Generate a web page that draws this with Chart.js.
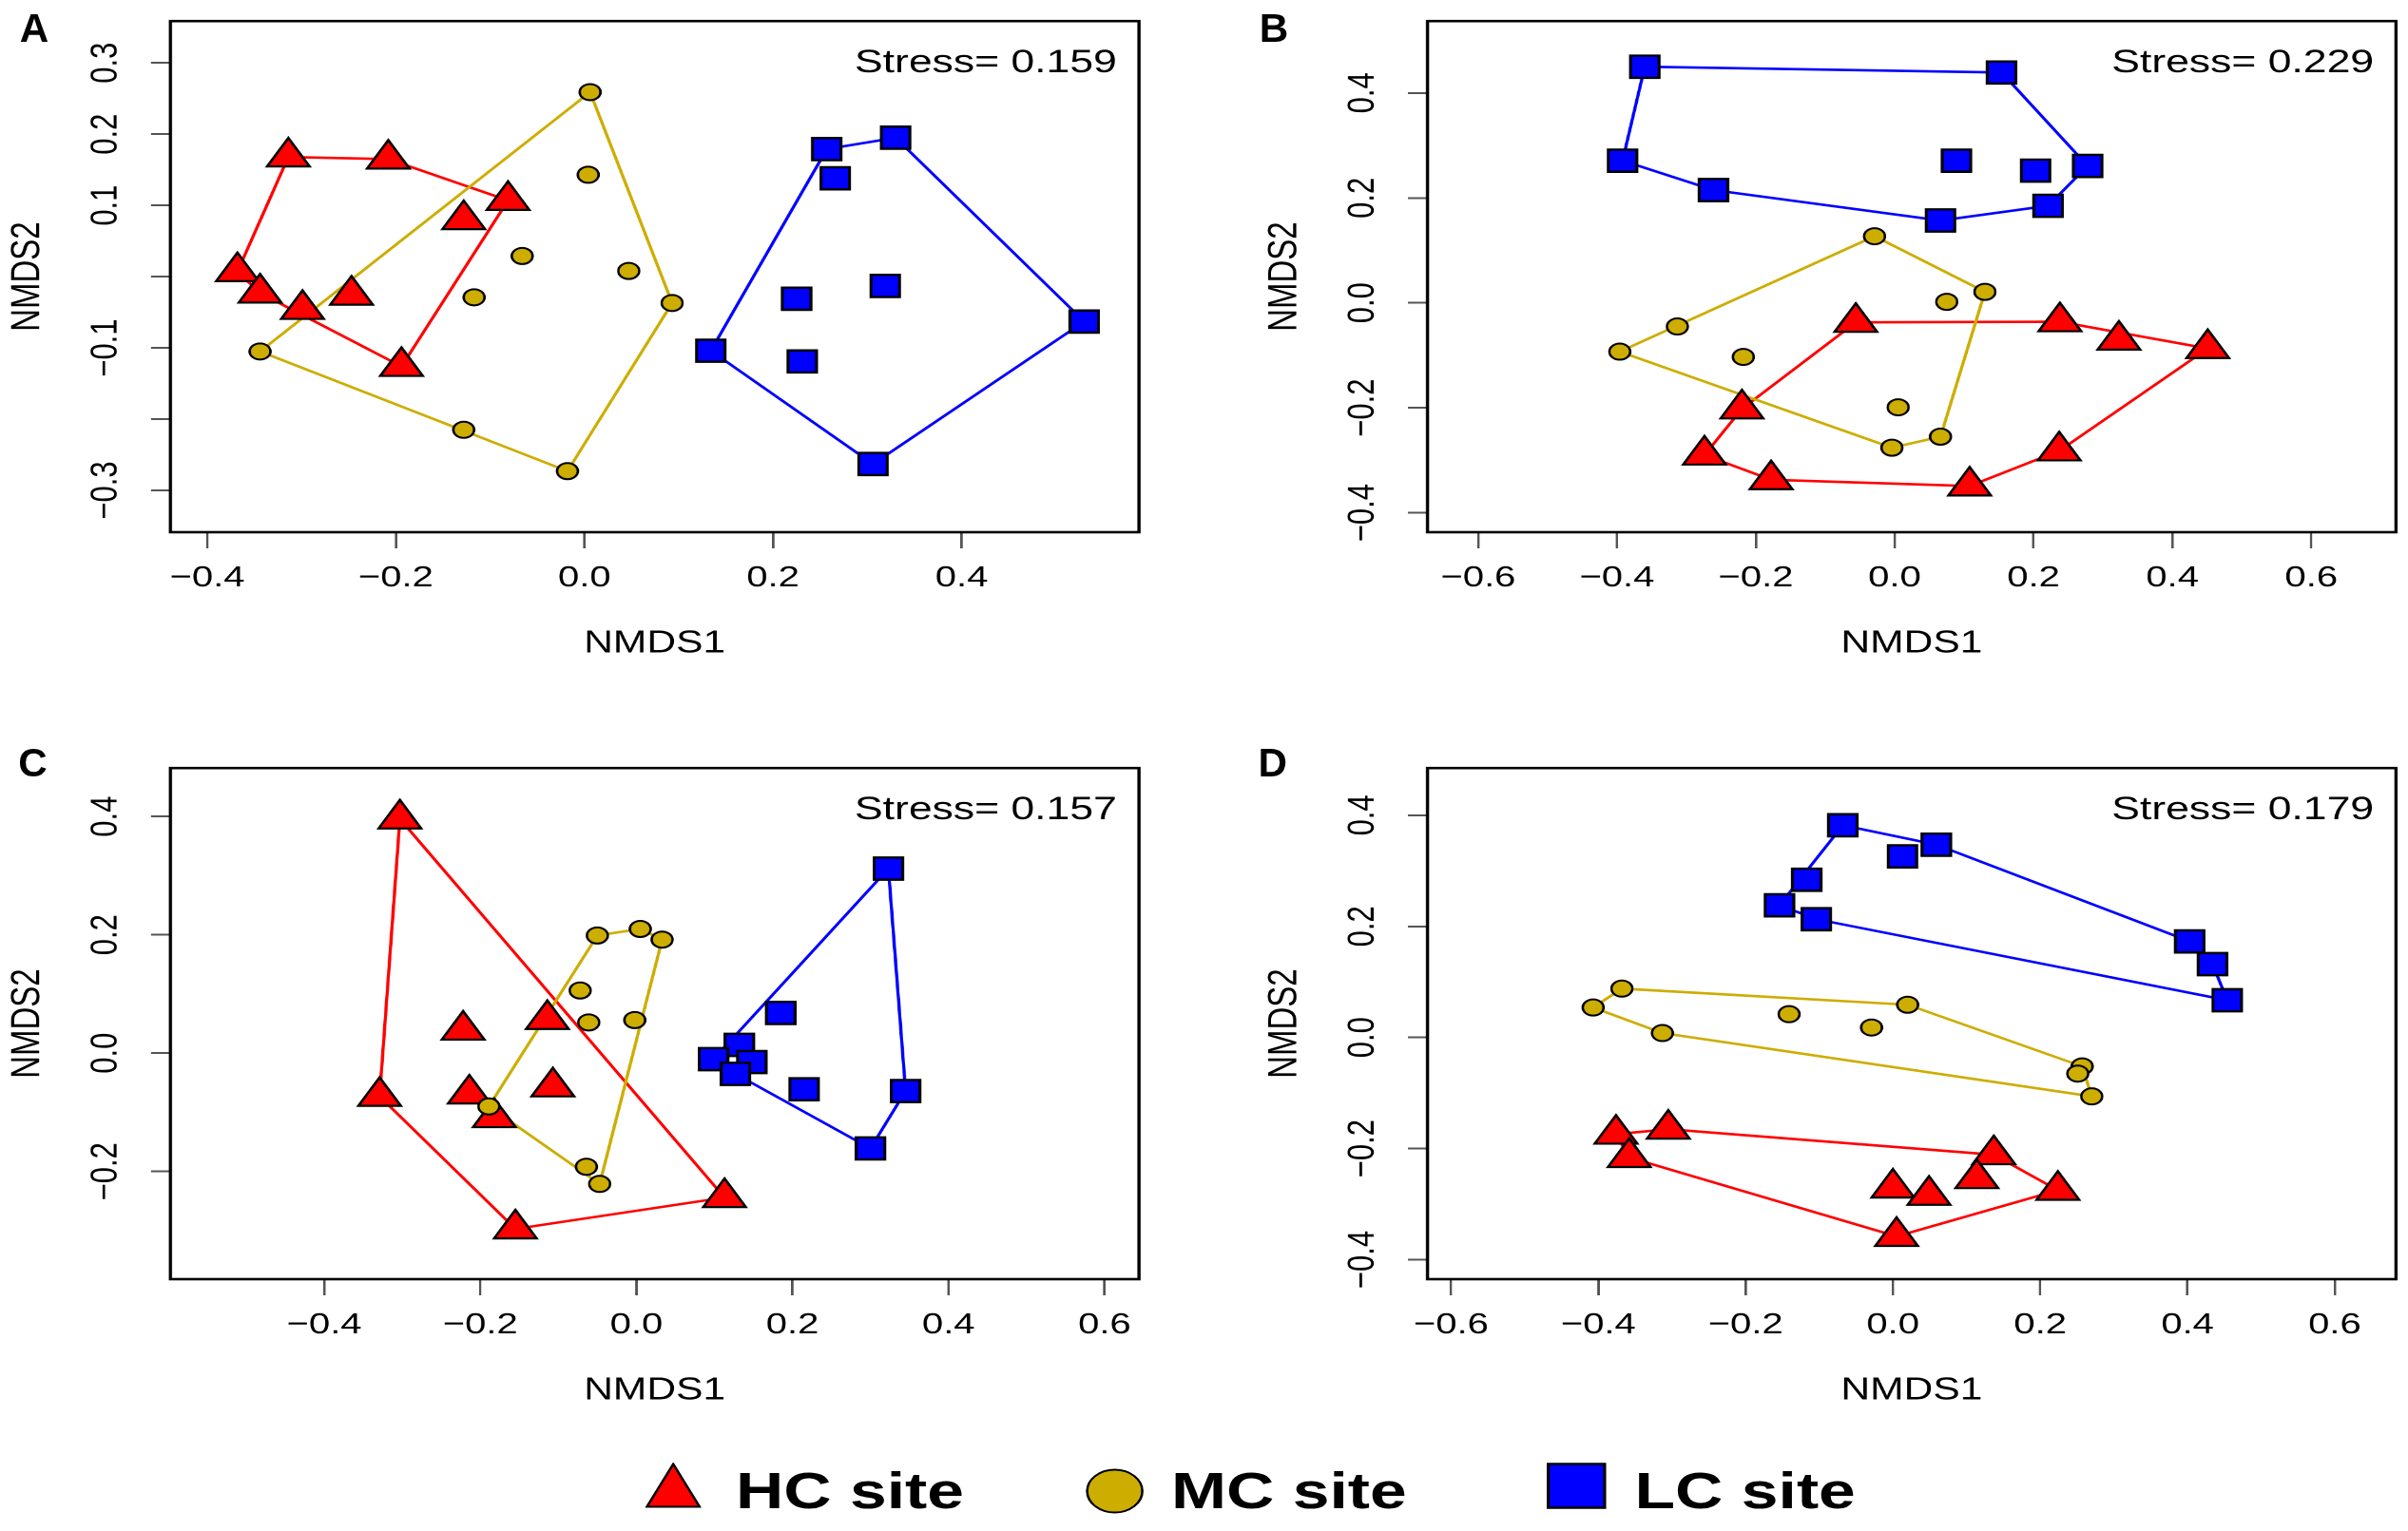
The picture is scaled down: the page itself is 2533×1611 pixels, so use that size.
<!DOCTYPE html>
<html><head><meta charset="utf-8">
<script src="https://cdn.jsdelivr.net/npm/chart.js@4.4.1/dist/chart.umd.min.js"></script>
<style>
html,body{margin:0;padding:0;background:#fff;overflow:hidden;width:2533px;height:1611px}
#fig{position:absolute;left:0;top:0;width:1964px;height:1611px;transform:scaleX(1.29);transform-origin:0 0;font-family:"Liberation Sans",Arial,sans-serif;color:#000}
.panel{position:absolute;width:990px;height:700px}
.letter{position:absolute;font-weight:bold;font-size:42px;line-height:42px;transform:scaleX(0.78);transform-origin:0 0}
.leg{position:absolute;font-weight:bold;font-size:54px;line-height:54px;white-space:nowrap}
.sym{position:absolute}
</style></head>
<body>
<div id="fig">
  <div class="panel" style="left:0px;top:0px"><canvas id="cA" width="990" height="700"></canvas></div>
  <div class="panel" style="left:1025.3px;top:0px"><canvas id="cB" width="990" height="700"></canvas></div>
  <div class="panel" style="left:0px;top:786px"><canvas id="cC" width="990" height="700"></canvas></div>
  <div class="panel" style="left:1025.3px;top:786px"><canvas id="cD" width="990" height="700"></canvas></div>
  <div class="letter" style="left:15.5px;top:8.5px">A</div>
  <div class="letter" style="left:1027px;top:8.5px">B</div>
  <div class="letter" style="left:14.7px;top:781.5px">C</div>
  <div class="letter" style="left:1025.6px;top:781.5px">D</div>

  <svg class="sym" style="left:526.4px;top:1539px" width="46" height="48"><polygon points="1.5,46.5 23,1.5 44.5,46.5" fill="#FF0000" stroke="#000" stroke-width="2"/></svg>
  <div class="leg" style="left:600px;top:1541px">HC site</div>
  <svg class="sym" style="left:885.3px;top:1545px" width="48" height="48"><circle cx="24" cy="24" r="22.5" fill="#CDAD00" stroke="#000" stroke-width="2"/></svg>
  <div class="leg" style="left:955px;top:1541px">MC site</div>
  <svg class="sym" style="left:1261px;top:1539px" width="49" height="49"><rect x="1.5" y="1.5" width="46" height="46" fill="#0000FF" stroke="#000" stroke-width="2.5"/></svg>
  <div class="leg" style="left:1333px;top:1541px">LC site</div>
</div>
<script>
// ---------------- data ----------------
// Panel A
const hcA = [[-0.314,0.168],[-0.208,0.165],[-0.081,0.107],[-0.128,0.080],[-0.368,0.007],[-0.344,-0.023],[-0.299,-0.046],[-0.247,-0.026],[-0.194,-0.126]];
const mcA = [[0.006,0.259],[0.004,0.143],[-0.066,0.029],[0.047,0.008],[-0.117,-0.029],[0.093,-0.037],[-0.344,-0.105],[-0.128,-0.215],[-0.018,-0.273]];
const lcA = [[0.257,0.179],[0.330,0.195],[0.266,0.138],[0.319,-0.013],[0.225,-0.031],[0.530,-0.063],[0.134,-0.104],[0.231,-0.119],[0.306,-0.263]];
// Panel B
const hcB = [[-0.056,-0.037],[0.238,-0.036],[0.323,-0.071],[0.451,-0.087],[-0.220,-0.202],[-0.274,-0.290],[-0.178,-0.337],[0.108,-0.349],[0.237,-0.282]];
const mcB = [[-0.029,0.127],[0.130,0.021],[0.075,0.002],[-0.313,-0.045],[-0.396,-0.093],[-0.218,-0.103],[0.005,-0.199],[0.066,-0.255],[-0.004,-0.276]];
const lcB = [[-0.360,0.450],[0.154,0.439],[-0.392,0.271],[0.089,0.271],[0.203,0.252],[0.278,0.261],[-0.261,0.215],[0.221,0.185],[0.066,0.157]];
// Panel C
const hcC = [[-0.303,0.396],[-0.222,0.039],[-0.114,0.057],[-0.329,-0.073],[-0.214,-0.069],[-0.107,-0.057],[-0.182,-0.109],[0.113,-0.244],[-0.155,-0.297]];
const mcC = [[-0.050,0.199],[0.005,0.210],[0.033,0.192],[-0.072,0.106],[-0.061,0.052],[-0.002,0.056],[-0.189,-0.090],[-0.064,-0.192],[-0.047,-0.221]];
const lcC = [[0.323,0.312],[0.185,0.068],[0.132,0.014],[0.099,-0.010],[0.148,-0.015],[0.127,-0.035],[0.215,-0.061],[0.345,-0.064],[0.300,-0.161]];
// Panel D
const hcD = [[-0.376,-0.174],[-0.305,-0.165],[-0.358,-0.216],[0.137,-0.211],[0.114,-0.254],[0.000,-0.271],[0.049,-0.284],[0.224,-0.275],[0.005,-0.358]];
const mcD = [[-0.368,0.088],[-0.407,0.054],[-0.141,0.042],[0.020,0.059],[-0.029,0.018],[-0.313,0.008],[0.257,-0.052],[0.251,-0.065],[0.270,-0.106]];
const lcD = [[-0.068,0.382],[0.059,0.347],[0.013,0.326],[-0.117,0.284],[-0.154,0.238],[-0.104,0.213],[0.403,0.173],[0.434,0.132],[0.454,0.067]];

// stress values
const stressA = "Stress= 0.159", stressB = "Stress= 0.229", stressC = "Stress= 0.157", stressD = "Stress= 0.179";

// axis ranges
const xRangeA = [-0.439, 0.588], yRangeA = [-0.3587, 0.3587];
const xRangeB = [-0.673, 0.722], yRangeB = [-0.437, 0.537];
const xRangeC = [-0.597, 0.644], yRangeC = [-0.382, 0.482];
const xRangeD = [-0.632, 0.683], yRangeD = [-0.435, 0.485];

// ticks and tick labels
const xTicksA = [-0.4,-0.2,0,0.2,0.4];            const xLabelsA = ["\u22120.4","\u22120.2","0.0","0.2","0.4"];
const yTicksA = [-0.3,-0.2,-0.1,0,0.1,0.2,0.3];    const yLabelsA = ["\u22120.3","","\u22120.1","","0.1","0.2","0.3"];
const xTicksB = [-0.6,-0.4,-0.2,0,0.2,0.4,0.6];   const xLabelsB = ["\u22120.6","\u22120.4","\u22120.2","0.0","0.2","0.4","0.6"];
const yTicksB = [-0.4,-0.2,0,0.2,0.4];            const yLabelsB = ["\u22120.4","\u22120.2","0.0","0.2","0.4"];
const xTicksC = [-0.4,-0.2,0,0.2,0.4,0.6];        const xLabelsC = ["\u22120.4","\u22120.2","0.0","0.2","0.4","0.6"];
const yTicksC = [-0.2,0,0.2,0.4];                 const yLabelsC = ["\u22120.2","0.0","0.2","0.4"];
const xTicksD = [-0.6,-0.4,-0.2,0,0.2,0.4,0.6];   const xLabelsD = ["\u22120.6","\u22120.4","\u22120.2","0.0","0.2","0.4","0.6"];
const yTicksD = [-0.4,-0.2,0,0.2,0.4];            const yLabelsD = ["\u22120.4","\u22120.2","0.0","0.2","0.4"];

const groupNames = ["HC site","MC site","LC site"];

// ---------------- rendering ----------------
const FAM = '"Liberation Sans", Arial, sans-serif';
const RED = '#FF0000', GOLD = '#CDAD00', BLUE = '#0000FF';

function hull(pts){
  const p = pts.map(a=>({x:a[0],y:a[1]})).sort((a,b)=>a.x-b.x||a.y-b.y);
  const cross=(o,a,b)=>(a.x-o.x)*(b.y-o.y)-(a.y-o.y)*(b.x-o.x);
  const lower=[];for(const q of p){while(lower.length>=2&&cross(lower[lower.length-2],lower[lower.length-1],q)<=0)lower.pop();lower.push(q);}
  const upper=[];for(let i=p.length-1;i>=0;i--){const q=p[i];while(upper.length>=2&&cross(upper[upper.length-2],upper[upper.length-1],q)<=0)upper.pop();upper.push(q);}
  upper.pop();lower.pop();
  const h=lower.concat(upper); h.push(h[0]); return h;
}
const toXY = pts => pts.map(a=>({x:a[0],y:a[1]}));

const framePlugin = {
  id:'frame',
  afterDatasetsDraw(chart, args, opts){
    const {ctx, chartArea:a} = chart;
    ctx.save();
    ctx.font = '34.5px ' + FAM;
    ctx.fillStyle = '#000';
    ctx.textAlign = 'right';
    ctx.textBaseline = 'alphabetic';
    ctx.fillText(opts.text, a.right - 18, a.top + 54);
    ctx.restore();
  },
  afterDraw(chart){
    const {ctx, chartArea:a} = chart;
    ctx.save();
    ctx.strokeStyle = '#000';
    ctx.lineWidth = 2.6;
    ctx.strokeRect(a.left, a.top, a.right - a.left, a.bottom - a.top);
    ctx.restore();
  }
};

function pointSet(label, pts, style, radius, color, bw, order){
  return {label, data: toXY(pts), pointStyle: style, pointRadius: radius, pointHoverRadius: radius,
    pointBackgroundColor: color, pointBorderColor: '#000', pointBorderWidth: bw, pointHoverBorderWidth: bw,
    showLine: false, order};
}
function hullSet(label, pts, color, order){
  return {label, data: hull(pts), showLine: true, borderColor: color, borderWidth: 2.6,
    pointRadius: 0, pointHoverRadius: 0, fill: false, tension: 0, order};
}

function makePanel(id, hc, mc, lc, xr, yr, xt, xl, yt, yl, stress){
  new Chart(document.getElementById(id), {
    type: 'scatter',
    data: { datasets: [
      pointSet(groupNames[2], lc, 'rect', 16.5, BLUE, 2.4, 1),
      pointSet(groupNames[1], mc, 'circle', 8.5, GOLD, 2, 2),
      pointSet(groupNames[0], hc, 'triangle', 20, RED, 2.2, 3),
      hullSet(groupNames[2] + ' hull', lc, BLUE, 4),
      hullSet(groupNames[1] + ' hull', mc, GOLD, 5),
      hullSet(groupNames[0] + ' hull', hc, RED, 6)
    ]},
    options: {
      responsive: false, animation: false, devicePixelRatio: 2,
      layout: { padding: { left: 0, top: 10, right: 61.3, bottom: 0 } },
      plugins: { legend: {display:false}, tooltip: {enabled:false}, frame: {text: stress} },
      scales: {
        x: {
          type: 'linear', position: 'bottom', min: xr[0], max: xr[1],
          afterBuildTicks: s => { s.ticks = xt.map(v => ({value: v})); },
          afterFit: s => { s.height = 140; s.paddingLeft = 0; s.paddingRight = 0; },
          ticks: { callback: (v, i) => xl[i], font: {family: FAM, size: 31}, color: '#000', padding: 13,
                   minRotation: 0, maxRotation: 0, autoSkip: false },
          grid: { drawOnChartArea: false, drawTicks: true, tickLength: 17, color: '#555', lineWidth: 2 },
          border: { display: false },
          title: { display: true, text: 'NMDS1', font: {family: FAM, size: 33}, color: '#000', padding: {top: 0, bottom: 3} }
        },
        y: {
          type: 'linear', position: 'left', min: yr[0], max: yr[1],
          afterBuildTicks: s => { s.ticks = yt.map(v => ({value: v})); },
          afterFit: s => { s.width = 139; s.paddingTop = 0; s.paddingBottom = 0; },
          ticks: { callback: (v, i) => yl[i], font: {family: FAM, size: 31, lineHeight: 0.2}, color: '#000', padding: 6,
                   minRotation: 90, maxRotation: 90, crossAlign: 'center', autoSkip: false },
          grid: { drawOnChartArea: false, drawTicks: true, tickLength: 16, color: '#555', lineWidth: 2 },
          border: { display: false },
          title: { display: true, text: 'NMDS2', font: {family: FAM, size: 33}, color: '#000', padding: {top: 3, bottom: 0} }
        }
      }
    },
    plugins: [framePlugin]
  });
}

makePanel('cA', hcA, mcA, lcA, xRangeA, yRangeA, xTicksA, xLabelsA, yTicksA, yLabelsA, stressA);
makePanel('cB', hcB, mcB, lcB, xRangeB, yRangeB, xTicksB, xLabelsB, yTicksB, yLabelsB, stressB);
makePanel('cC', hcC, mcC, lcC, xRangeC, yRangeC, xTicksC, xLabelsC, yTicksC, yLabelsC, stressC);
makePanel('cD', hcD, mcD, lcD, xRangeD, yRangeD, xTicksD, xLabelsD, yTicksD, yLabelsD, stressD);
</script>
</body></html>
